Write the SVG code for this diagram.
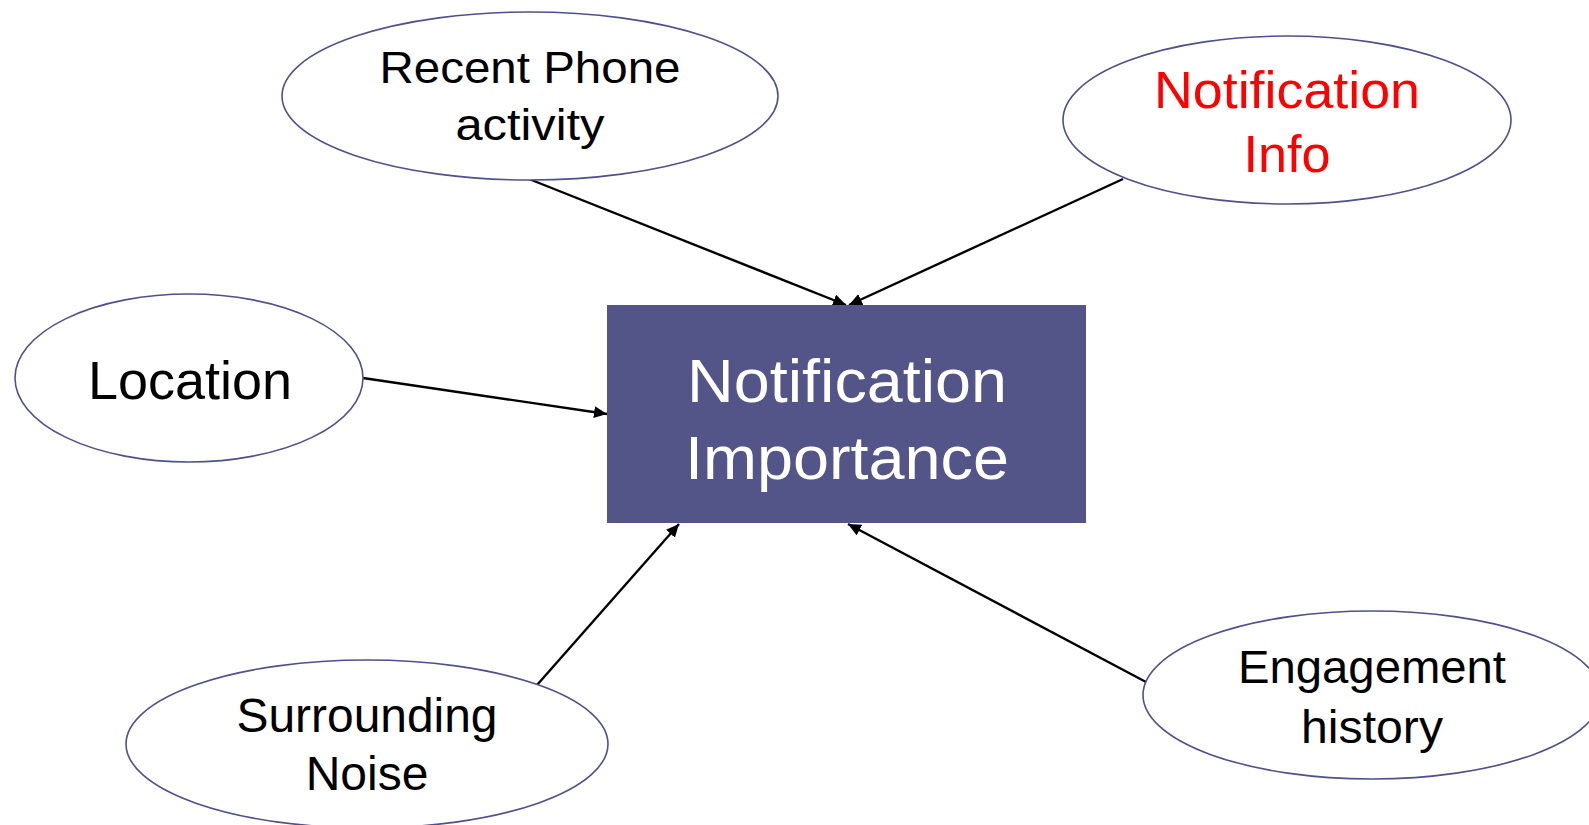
<svg xmlns="http://www.w3.org/2000/svg" width="1589" height="825" viewBox="0 0 1589 825">
<defs>
<style>
.el{fill:#ffffff;stroke:#4f5090;stroke-width:1.6}
.t{font-family:"Liberation Sans",Arial,Helvetica,sans-serif;fill:#000000;text-anchor:middle}
.c{stroke:#000000;stroke-width:2.4;fill:none;marker-end:url(#ah)}
</style>
<marker id="ah" markerUnits="userSpaceOnUse" markerWidth="14" markerHeight="12" refX="13" refY="6" orient="auto">
<path d="M0,0 L13,6 L0,12 z" fill="#000000"/>
</marker>
</defs>
<rect width="1589" height="825" fill="#ffffff"/>
<g id="connectors">
<line class="c" x1="529" y1="179" x2="846" y2="305"/>
<line class="c" x1="1123" y1="179" x2="849" y2="305"/>
<line class="c" x1="363" y1="378" x2="607" y2="414"/>
<line class="c" x1="537" y1="685" x2="679" y2="524"/>
<line class="c" x1="1146" y1="682" x2="848" y2="524"/>
</g>
<g id="node-importance">
<rect x="607" y="305" width="479" height="218" fill="#535488"/>
<text class="t" x="847" y="402" font-size="62" style="fill:#ffffff" textLength="320" lengthAdjust="spacingAndGlyphs">Notification</text>
<text class="t" x="847" y="479" font-size="62" style="fill:#ffffff" textLength="324" lengthAdjust="spacingAndGlyphs">Importance</text>
</g>
<g id="node-recent">
<ellipse class="el" cx="530" cy="96" rx="248" ry="84"/>
<text class="t" x="530" y="83" font-size="44" textLength="301" lengthAdjust="spacingAndGlyphs">Recent Phone</text>
<text class="t" x="530" y="140" font-size="44" textLength="149" lengthAdjust="spacingAndGlyphs">activity</text>
</g>
<g id="node-notifinfo">
<ellipse class="el" cx="1287" cy="120" rx="224" ry="84"/>
<text class="t" x="1287" y="108" font-size="52" style="fill:#ff0000" textLength="266" lengthAdjust="spacingAndGlyphs">Notification</text>
<text class="t" x="1287" y="172" font-size="52" style="fill:#ff0000" textLength="87" lengthAdjust="spacingAndGlyphs">Info</text>
</g>
<g id="node-location">
<ellipse class="el" cx="189" cy="378" rx="174" ry="84"/>
<text class="t" x="190" y="399" font-size="54" textLength="204" lengthAdjust="spacingAndGlyphs">Location</text>
</g>
<g id="node-noise">
<ellipse class="el" cx="367" cy="744" rx="241" ry="84"/>
<text class="t" x="367" y="732" font-size="48" textLength="261" lengthAdjust="spacingAndGlyphs">Surrounding</text>
<text class="t" x="367" y="790" font-size="48">Noise</text>
</g>
<g id="node-engagement">
<ellipse class="el" cx="1372" cy="695" rx="229" ry="84"/>
<text class="t" x="1372" y="683" font-size="47" textLength="268" lengthAdjust="spacingAndGlyphs">Engagement</text>
<text class="t" x="1372" y="743" font-size="47" textLength="142" lengthAdjust="spacingAndGlyphs">history</text>
</g>
</svg>
